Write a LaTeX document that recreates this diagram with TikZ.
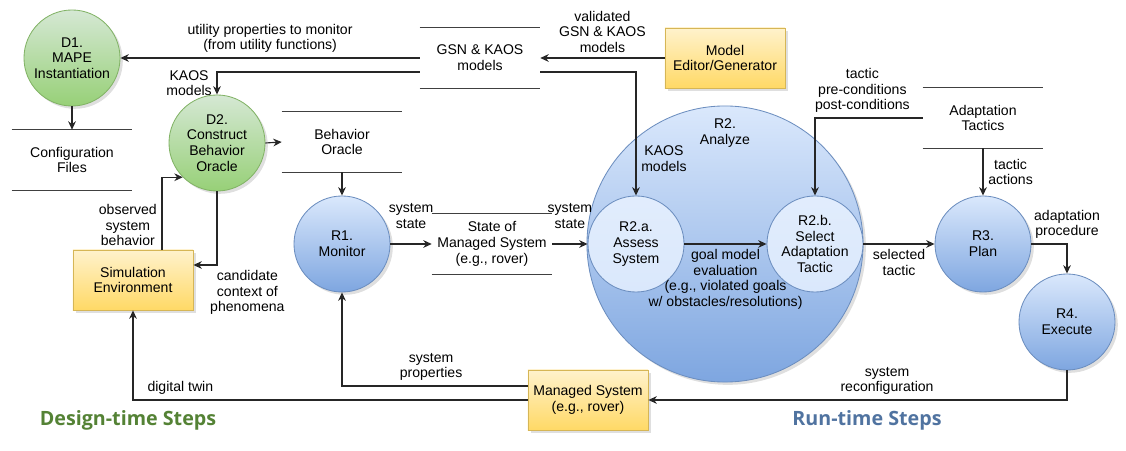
\documentclass[tikz,border=0pt]{standalone}
\usepackage{fontspec}
\setmainfont{Liberation Sans}
\newfontfamily\titlefont{Open Sans}
\usetikzlibrary{arrows.meta,positioning,shadows}

\definecolor{blueline}{HTML}{6C8EBF}
\definecolor{bluetop}{HTML}{DAE8FC}
\definecolor{bluebot}{HTML}{7EA6E0}
\definecolor{greenline}{HTML}{82B366}
\definecolor{greentop}{HTML}{D5E8D4}
\definecolor{greenbot}{HTML}{97D077}
\definecolor{yellowline}{HTML}{D6B656}
\definecolor{yellowtop}{HTML}{FFF2CC}
\definecolor{yellowbot}{HTML}{FFD966}
\definecolor{designgreen}{HTML}{548235}
\definecolor{runblue}{HTML}{5073A0}

\begin{document}
\begin{tikzpicture}[x=0.025cm,y=-0.025cm,align=center,font=\fontsize{10}{11.2}\selectfont]
	\tikzstyle{shade} = [drop shadow={opacity=0.25,shadow xshift=2pt,shadow yshift=-2pt}]
	\tikzstyle{runproc} = [circle,draw=blueline,semithick,inner sep=0pt,minimum size=2.4cm,top color=bluetop,bottom color=bluebot,shade]
	\tikzstyle{bigproc} = [runproc,minimum size=6.9cm]
	\tikzstyle{subproc} = [circle,draw=blueline,semithick,inner sep=0pt,minimum size=2.4cm,top color=bluetop!80!white,bottom color=bluetop]
	\tikzstyle{designproc} = [circle,draw=greenline,semithick,inner sep=0pt,minimum size=2.4cm,top color=greentop,bottom color=greenbot,shade]
	\tikzstyle{ext} = [rectangle,draw=yellowline,semithick,minimum width=3cm,minimum height=1.5cm,top color=yellowtop,bottom color=yellowbot,shade]
	\tikzstyle{store} = [minimum width=3cm,minimum height=1.5cm]
	\tikzstyle{storeline} = [line width=0.8pt,draw=black!75]
	\tikzstyle{flow} = [-{Stealth[length=6pt,width=5.5pt]},line width=0.8pt,draw=black!85]
	\tikzstyle{steps} = [font=\titlefont\bfseries\fontsize{14}{16}\selectfont]
	\useasboundingbox (0,0) rectangle (1126,451);
	% data stores
	\foreach \name/\x/\y/\txt in {cfg/72/160/{Configuration\\Files}, gsn/480/58/{GSN \& KAOS\\models}, oracle/342/142/{Behavior\\Oracle}, state/492/244/{State of\\Managed System\\(e.g., rover)}, tactics/983/118/{Adaptation\\Tactics}} {
		\node[store] (\name) at (\x,\y) {\txt};
		\draw[storeline] (\name.north west) -- (\name.north east) (\name.south west) -- (\name.south east);
	}
	% processes
	\node[designproc] (d1) at (72,58) {D1.\\MAPE\\Instantiation};
	\node[designproc] (d2) at (217,143) {D2.\\Construct\\Behavior\\Oracle};
	\node[runproc] (r1) at (342,244) {R1.\\Monitor};
	\node[bigproc] (r2) at (725,244) {};
	\node (r2title) [below=0.2cm of r2.north] {R2.\\Analyze};
	\node[subproc] (r2a) at (636,244) {R2.a.\\Assess\\System};
	\node[subproc] (r2b) at (815,244) {R2.b.\\Select\\Adaptation\\Tactic};
	\node[runproc] (r3) at (983,244) {R3.\\Plan};
	\node[runproc] (r4) at (1067,322) {R4.\\Execute};
	% external entities
	\node[ext] (sim) at (133,280) {Simulation\\Environment};
	\node[ext] (editor) at (725,58) {Model\\Editor/Generator};
	\node[ext] (managed) at (588,400) {Managed System\\(e.g., rover)};
	% design-time flows
	\draw[flow] (gsn.west) -- node[above]{utility properties to monitor\\(from utility functions)} (d1.east);
	\draw[flow] ([yshift=-0.35cm]gsn.west) -| node[pos=0.75,left]{KAOS\\models} (d2.north);
	\draw[flow] (editor.west) -- node[above]{validated\\GSN \& KAOS\\models} (gsn.east);
	\draw[flow] (d1.south) -- (cfg.north);
	\draw[flow] (d2.east) -- (oracle.west);
	\draw[flow] ([xshift=0.725cm]sim.north) |- node[pos=0.17,left]{observed\\system\\behavior} (d2.225);
	\draw[flow] (d2.south) |- node[pos=0.5,anchor=north west,xshift=-0.3cm]{candidate\\context of\\phenomena} ([yshift=0.375cm]sim.east);
	\draw[flow] (managed.west) -| node[pos=0.44,above]{digital twin} (sim.south);
	% run-time flows
	\draw[flow] (oracle.south) -- (r1.north);
	\draw[flow] ([yshift=-0.35cm]gsn.east) -| node[pos=0.85,right]{KAOS\\models} (r2a.north);
	\draw[flow] (r1.east) -- node[above=0.25cm]{system\\state} (state.west);
	\draw[flow] (state.east) -- node[above=0.25cm]{system\\state} (r2a.west);
	\draw[flow] (r2a.east) -- node[below]{goal model\\evaluation\\(e.g., violated goals\\w/ obstacles/resolutions)} (r2b.west);
	\draw[flow] (tactics.west) -| node[pos=0.28,above]{tactic\\pre-conditions\\post-conditions} (r2b.north);
	\draw[flow] (tactics.south) -- node[right]{tactic\\actions} (r3.north);
	\draw[flow] (r2b.east) -- node[below]{selected\\tactic} (r3.west);
	\draw[flow] (r3.east) -| node[pos=0.5,above]{adaptation\\procedure} (r4.north);
	\draw[flow] (r4.south) |- node[pos=0.715,above]{system\\reconfiguration} (managed.east);
	\draw[flow] ([yshift=0.35cm]managed.west) -| node[pos=0.26,above]{system\\properties} (r1.south);
	% titles
	\node[steps,text=designgreen] (designtitle) at (128,420) {Design-time Steps};
	\node[steps,text=runblue] (runtitle) at (867,420) {Run-time Steps};
\end{tikzpicture}
\end{document}
